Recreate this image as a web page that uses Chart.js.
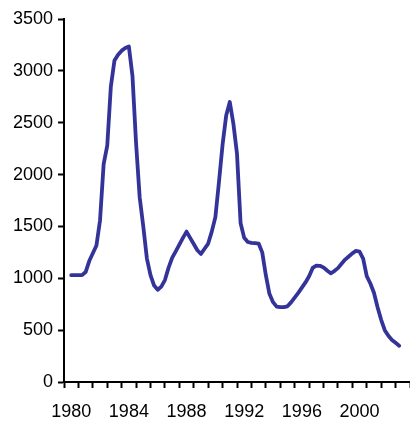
<!DOCTYPE html>
<html>
<head>
<meta charset="utf-8">
<script src="https://cdn.jsdelivr.net/npm/chart.js@4.4.1/dist/chart.umd.min.js"></script>
<style>
  html, body { margin: 0; padding: 0; background: #fff; }
  #wrap { width: 410px; height: 423px; }
</style>
</head>
<body>
<div id="wrap"><canvas id="chart"></canvas></div>
<script>
// quarterly values, Jan 1980 .. Oct 2002
const startYear = 1980;
const values = [
  1030, 1030, 1030, 1030,
  1060, 1166, 1241, 1316,
  1560, 2100, 2280, 2850,
  3100, 3155, 3195, 3220,
  3235, 2950, 2300, 1780,
  1500, 1190, 1030, 930,
  890, 920, 983, 1100,
  1197, 1260, 1325, 1390,
  1450, 1390, 1330, 1270,
  1235, 1285, 1335, 1450,
  1590, 1930, 2290, 2570,
  2700, 2490, 2200, 1530,
  1390, 1350, 1342, 1340,
  1335, 1250, 1030, 850,
  770, 727, 721, 722,
  730, 768, 813, 860,
  910, 960, 1020, 1100,
  1122, 1120, 1105, 1075,
  1048, 1070, 1098, 1140,
  1180, 1210, 1240, 1264,
  1258, 1190, 1020, 950,
  860, 720, 600, 500,
  445, 405, 378, 350,
];
const yearLabels = [1980, 1984, 1988, 1992, 1996, 2000];
const yTicks = [0, 500, 1000, 1500, 2000, 2500, 3000, 3500];

const points = values.map((v, i) => ({ x: startYear + i / 4, y: v }));

const whiteBg = {
  id: "whiteBg",
  beforeDraw(chart) {
    const ctx = chart.ctx;
    ctx.save();
    ctx.fillStyle = "#fff";
    ctx.fillRect(0, 0, chart.width, chart.height);
    ctx.restore();
  },
};

const font = { family: "'Liberation Sans', Arial, sans-serif", size: 18 };

new Chart(document.getElementById("chart"), {
  type: "line",
  data: {
    datasets: [{
      data: points,
      borderColor: "#333399",
      borderWidth: 3.8,
      borderJoinStyle: "round",
      borderCapStyle: "round",
      pointRadius: 0,
      tension: 0,
      fill: false,
    }],
  },
  options: {
    responsive: true,
    maintainAspectRatio: false,
    animation: false,
    layout: { padding: { top: 19, right: 0, left: 0, bottom: 0 } },
    plugins: { legend: { display: false }, tooltip: { enabled: false } },
    scales: {
      x: {
        type: "linear",
        min: 1979.5,
        max: 2003.5,
        afterBuildTicks(scale) {
          // marks between years, labels on the year
          const t = [];
          for (let y = 1979.5; y <= 2003.5; y += 1) t.push({ value: y });
          yearLabels.forEach((y) => t.push({ value: y }));
          t.sort((a, b) => a.value - b.value);
          scale.ticks = t;
        },
        afterFit(scale) {
          scale.height = 41;
          // tick padding would otherwise shrink the plot on both sides
          scale.paddingLeft = 0;
          scale.paddingRight = 0;
        },
        border: { display: true, color: "#000", width: 2 },
        grid: {
          drawOnChartArea: false,
          drawTicks: true,
          tickLength: 6,
          tickWidth: 2,
          tickColor: (ctx) => (ctx.tick && Number.isInteger(ctx.tick.value) ? "rgba(0,0,0,0)" : "#000"),
        },
        ticks: {
          autoSkip: false,
          maxRotation: 0,
          padding: 13,
          color: "#000",
          font,
          callback: (v) => (yearLabels.includes(v) ? String(v) : ""),
        },
      },
      y: {
        min: 0,
        max: 3500,
        afterBuildTicks(scale) {
          scale.ticks = yTicks.map((v) => ({ value: v }));
        },
        afterFit(scale) { scale.width = 64; },
        border: { display: true, color: "#000", width: 2 },
        grid: {
          drawOnChartArea: false,
          drawTicks: true,
          tickLength: 6,
          tickWidth: 2,
          tickColor: "#000",
        },
        ticks: { padding: 5, color: "#000", font, callback: (v) => String(v) },
      },
    },
  },
  plugins: [whiteBg],
});
</script>
</body>
</html>
